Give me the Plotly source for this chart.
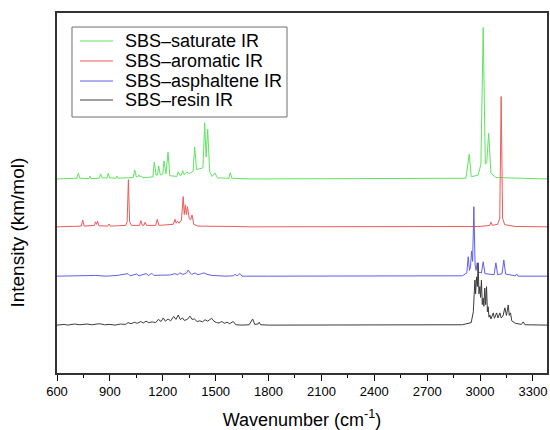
import plotly.graph_objects as go

# Spectral curves (wavenumber cm^-1, stacked intensity)
saturate_points = [(600,53.9),(712,54.1),(721,55.5),(730,54.1),(780,54.0),(787,54.7),(794,54.0),(840,54.1),(848,55.3),(856,54.2),
    (884,54.2),(891,55.5),(898,54.2),(934,54.1),(940,54.7),(946,54.1),(1032,54.3),(1041,56.4),(1050,54.5),(1060,54.5),
    (1065,55.0),(1072,54.5),(1080,54.7),(1088,54.2),(1144,54.5),(1152,58.6),(1162,55.0),(1170,55.0),(1177,57.5),(1186,55.0),
    (1200,55.2),(1207,58.9),(1218,55.3),(1230,61.3),(1240,54.8),(1280,54.6),(1288,55.9),(1298,54.9),(1306,55.0),(1313,56.2),
    (1322,55.1),(1336,55.8),(1350,55.4),(1372,56.0),(1381,62.8),(1392,56.5),(1428,57.0),(1438,69.5),(1446,60.0),(1455,67.7),
    (1466,56.0),(1480,54.6),(1496,55.6),(1510,54.2),(1575,54.1),(1583,55.6),(1592,54.1),(1700,53.9),(2920,54.1),(2939,60.8),
    (2950,54.5),(2990,55.0),(3005,58.0),(3018,96.0),(3030,58.0),(3038,58.5),(3049,66.6),(3062,55.5),(3090,54.3),(3380,53.9)]

aromatic_points = [(600,40.6),(738,40.8),(746,42.5),(754,40.8),(812,41.0),(818,42.0),(824,41.3),(830,42.2),(838,40.9),
    (888,40.8),(895,41.4),(902,40.8),(990,41.0),(998,42.0),(1005,53.7),(1012,42.0),(1022,41.0),(1068,41.0),(1076,42.3),
    (1084,41.0),(1094,41.1),(1100,41.9),(1108,41.0),(1160,41.0),(1169,42.7),(1178,41.0),(1260,41.3),(1269,42.7),(1276,41.6),
    (1283,42.2),(1292,41.6),(1306,42.5),(1316,49.0),(1322,44.0),(1328,46.7),(1334,44.0),(1340,46.2),(1350,43.0),(1358,42.5),
    (1366,43.9),(1376,41.3),(1400,40.8),(1600,40.7),(1700,40.6),(3000,40.7),(3055,41.0),(3062,41.9),(3070,41.0),(3100,41.3),
    (3112,43.0),(3120,76.8),(3128,43.0),(3140,41.2),(3200,40.7),(3380,40.6)]

asphaltene_points = [(600,26.9),(700,27.0),(760,26.9),(820,27.1),(880,26.9),(940,27.1),(1003,27.6),(1015,27.0),(1052,27.5),
    (1065,27.0),(1105,27.6),(1120,27.1),(1138,27.7),(1150,27.1),(1200,27.2),(1240,27.2),(1269,27.6),(1285,27.3),(1297,27.8),
    (1315,27.4),(1335,27.8),(1345,28.6),(1355,27.8),(1365,27.4),(1383,27.8),(1400,27.3),(1420,27.6),(1434,27.8),(1450,27.4),
    (1480,27.1),(1560,26.9),(1600,27.0),(1610,27.4),(1622,27.0),(1638,27.6),(1650,26.9),(1800,26.9),(2900,27.0),(2925,27.8),
    (2933,32.3),(2940,28.5),(2946,29.5),(2952,33.9),(2958,31.0),(2965,46.2),(2972,30.0),(2978,28.5),(2984,30.6),(2992,28.0),
    (3008,27.8),(3018,30.9),(3028,27.6),(3080,27.3),(3090,30.6),(3100,27.3),(3125,27.6),(3135,31.4),(3145,27.5),(3200,27.0),
    (3208,27.5),(3216,26.9),(3380,26.9)]

resin_points = [(600,13.3),(640,13.5),(660,13.3),(700,13.6),(730,13.4),(770,13.6),(800,13.4),(840,13.7),(870,13.4),(900,13.5),
    (930,13.3),(960,13.6),(990,13.5),(1003,14.0),(1020,13.7),(1040,14.1),(1055,13.8),(1075,14.3),(1090,13.9),(1105,14.4),
    (1120,14.0),(1140,14.2),(1160,14.0),(1175,14.9),(1190,14.3),(1203,15.3),(1215,14.4),(1230,15.0),(1245,14.5),(1262,15.7),
    (1275,14.9),(1288,16.1),(1300,14.8),(1312,15.3),(1322,14.6),(1340,14.9),(1354,15.8),(1366,14.9),(1380,15.0),(1395,14.3),
    (1410,14.5),(1425,14.2),(1440,14.8),(1455,14.4),(1477,15.2),(1490,14.4),(1505,14.0),(1520,13.9),(1535,14.3),(1550,13.8),
    (1565,14.1),(1580,13.7),(1600,14.3),(1615,13.4),(1650,13.3),(1690,13.4),(1710,15.0),(1722,13.5),(1740,13.6),(1747,14.1),
    (1755,13.4),(1800,13.3),(2900,13.4),(2950,14.0),(2962,17.0),(2971,25.8),(2975,22.0),(2980,26.7),(2985,24.0),(2989,30.6),
    (2994,22.0),(2999,24.0),(3003,21.0),(3008,25.8),(3013,19.0),(3018,20.8),(3022,18.5),(3027,23.6),(3032,19.0),(3037,24.0),
    (3042,17.0),(3046,18.4),(3051,15.5),(3056,16.1),(3062,15.0),(3068,16.0),(3075,16.7),(3082,15.2),(3094,16.7),(3102,15.3),
    (3113,16.7),(3120,15.3),(3130,15.8),(3141,18.1),(3150,16.0),(3160,18.9),(3166,16.0),(3173,16.7),(3180,14.5),(3200,13.8),
    (3235,13.5),(3245,14.2),(3255,13.4),(3380,13.3)]

series_names = ["SBS–saturate IR", "SBS–aromatic IR", "SBS–asphaltene IR", "SBS–resin IR"]
series_colors = ["rgb(95,228,95)", "rgb(238,90,90)", "rgb(95,95,235)", "rgb(60,60,60)"]
series_points = [saturate_points, aromatic_points, asphaltene_points, resin_points]

x_tickvals = [600, 900, 1200, 1500, 1800, 2100, 2400, 2700, 3000, 3300]

fig = go.Figure()
for name, color, pts in zip(series_names, series_colors, series_points):
    fig.add_trace(go.Scatter(
        x=[p[0] for p in pts], y=[p[1] for p in pts], mode="lines", name=name,
        line=dict(color=color, width=1), showlegend=False))

# Legend drawn as a boxed key in paper coordinates (compact row spacing like the reference)
fig.add_shape(type="rect", xref="paper", yref="paper", x0=0.0306, x1=0.4694, y0=0.7111, y1=0.9611,
              line=dict(color="rgb(110,110,110)", width=1), fillcolor="white", layer="above")
row_y = [0.9222, 0.8667, 0.8111, 0.7583]
for name, color, ry in zip(series_names, series_colors, row_y):
    fig.add_shape(type="line", xref="paper", yref="paper", x0=0.0469, x1=0.1143, y0=ry, y1=ry,
                  line=dict(color=color, width=1), layer="above")
    fig.add_annotation(text=name, xref="paper", yref="paper", x=0.1347, y=ry, xanchor="left", yanchor="middle",
                       showarrow=False, font=dict(size=18, color="black"))

# y-axis title placed as in the reference (a little below the plot's middle)
fig.add_annotation(text="Intensity (km/mol)", xref="paper", yref="paper", x=-0.0796, y=0.39,
                   xanchor="center", yanchor="middle", textangle=-90, showarrow=False,
                   font=dict(size=19, color="black"))

fig.update_layout(
    width=550, height=430,
    margin=dict(l=57, r=3, t=13, b=57, autoexpand=False),
    paper_bgcolor="white", plot_bgcolor="white",
    font=dict(family="Liberation Sans, Arial, sans-serif", color="black"),
    xaxis=dict(range=[600, 3380], tickvals=x_tickvals, ticks="outside", ticklen=6, tickwidth=1,
               tickcolor="black", tickfont=dict(size=13),
               minor=dict(dtick=150, tick0=600, ticks="outside", ticklen=3, tickcolor="black", showgrid=False),
               showgrid=False, zeroline=False, showline=True, linecolor="rgb(50,50,50)", linewidth=1.5, mirror=True,
               title=dict(text="Wavenumber (cm<sup>-1</sup>)", font=dict(size=18), standoff=15)),
    yaxis=dict(range=[0, 100], showticklabels=False, ticks="", showgrid=False, zeroline=False,
               showline=True, linecolor="rgb(50,50,50)", linewidth=1.5, mirror=True),
)

# remove the page's default body margin so the 550x430 figure fills the window exactly
fig.write_html("out.html", config={"displayModeBar": False},
               post_script="document.body.style.margin='0px';document.body.style.overflow='hidden';")
